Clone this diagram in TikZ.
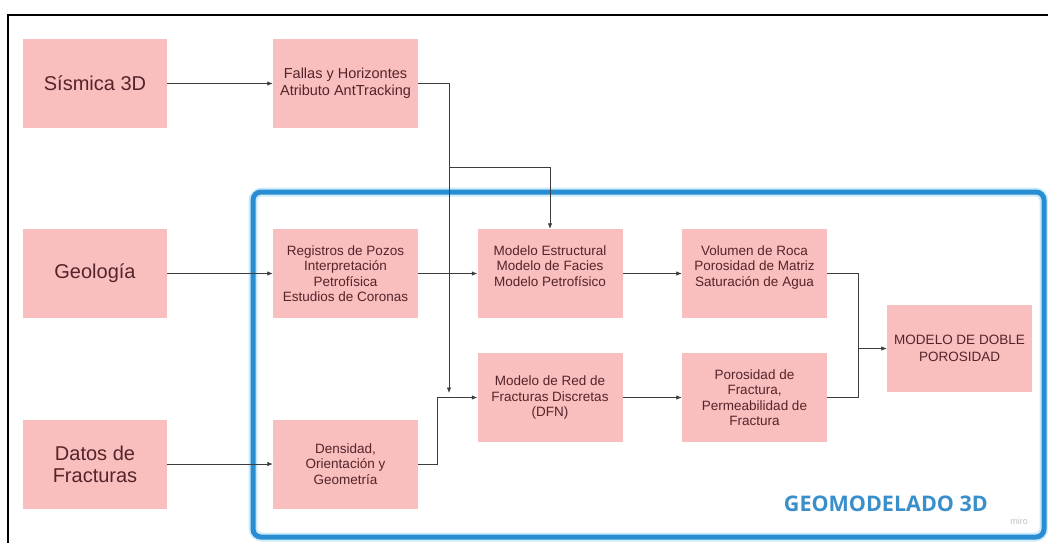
\documentclass[tikz,border=0pt]{standalone}
\usepackage{fontspec}
\setmainfont{Liberation Sans}
\newfontfamily\geofont{Open Sans}
\usetikzlibrary{arrows.meta}

\definecolor{boxpink}{RGB}{249,190,190}
\definecolor{boxtext}{RGB}{84,36,42}
\definecolor{frameblue}{RGB}{40,141,211}
\definecolor{framehalo}{RGB}{205,236,250}
\definecolor{linkgray}{RGB}{60,60,60}
\definecolor{titleblue}{RGB}{58,143,203}

\begin{document}
\begin{tikzpicture}[x=1pt,y=-1pt,
  box/.style={fill=boxpink, text=boxtext, minimum width=145pt, minimum height=89pt,
              inner sep=2pt, align=center, font=\fontsize{13.5}{15.5}\selectfont},
  bigbox/.style={box, minimum width=144pt, font=\fontsize{20}{22}\selectfont},
  link/.style={draw=linkgray, line width=0.8pt, -{Latex[length=5.5pt,width=4.5pt]}},
  wire/.style={draw=linkgray, line width=0.8pt}]

\useasboundingbox (0,0) rectangle (1048,542);
\fill[white] (0,0) rectangle (1048,542);

% outer page border
\draw[black, line width=2pt] (8,552) -- (8,15) -- (1058,15);

% 3D geomodelling frame
\draw[framehalo, line width=9pt, rounded corners=9pt] (253,192) rectangle (1044,537);
\draw[frameblue, line width=5pt, rounded corners=8pt] (253,192) rectangle (1044,537);

% input data
\node[bigbox] (sismica) at (95,83.5) {Sísmica 3D};
\node[bigbox] (geologia) at (95,273.5) {Geología};
\node[bigbox] (datos) at (95,464) {Datos de\\Fracturas};

% first processing column
\node[box, font=\fontsize{14.5}{17}\selectfont] (fallas) at (345.5,83.5)
  {Fallas y Horizontes\\Atributo AntTracking};
\node[box] (registros) at (345.5,273.5)
  {Registros de Pozos\\Interpretación\\Petrofísica\\Estudios de Coronas};
\node[box] (densidad) at (345.5,464)
  {Densidad,\\Orientación y\\Geometría};

% models
\node[box] (estructural) at (550,273.5)
  {Modelo Estructural\\Modelo de Facies\\Modelo Petrofísico\\\mbox{}};
\node[box] (dfn) at (550,397.5)
  {Modelo de Red de\\Fracturas Discretas\\(DFN)};
\node[box] (volumen) at (754.5,273.5)
  {Volumen de Roca\\Porosidad de Matriz\\Saturación de Agua\\\mbox{}};
\node[box] (porosidad) at (754.5,397.5)
  {Porosidad de\\Fractura,\\Permeabilidad de\\Fractura};
\node[box, minimum height=87pt, font=\fontsize{13.5}{17}\selectfont] (doble) at (959.5,348.5)
  {MODELO DE DOBLE\\POROSIDAD};

% frame title and watermark
\node[anchor=base east, inner sep=0, text=titleblue,
      font=\geofont\bfseries\fontsize{21.5}{24}\selectfont] (geotitle) at (988,511) {GEOMODELADO 3D};
\node[anchor=base, inner sep=0, text=black!25,
      font=\fontsize{9}{10}\selectfont] (watermark) at (1019,524) {miro};

% routing points
\coordinate (fdrop) at (449,393);
\coordinate (fsplit) at (449,167);
\coordinate (merge) at (858,348.5);

% connectors
\draw[link] (sismica) -- (fallas);
\draw[link] (geologia) -- (registros);
\draw[link] (datos) -- (densidad);
\draw[link] (fallas.east) -| (fdrop);
\draw[link] (fsplit) -| (estructural.north);
\draw[link] (registros) -- (estructural);
\draw[link] (densidad.east) -- ++(19,0) |- (dfn.west);
\draw[link] (estructural) -- (volumen);
\draw[link] (dfn) -- (porosidad);
\draw[wire] (volumen.east) -| (merge);
\draw[wire] (porosidad.east) -| (merge);
\draw[link] (merge) -- (doble.west);

\end{tikzpicture}
\end{document}
